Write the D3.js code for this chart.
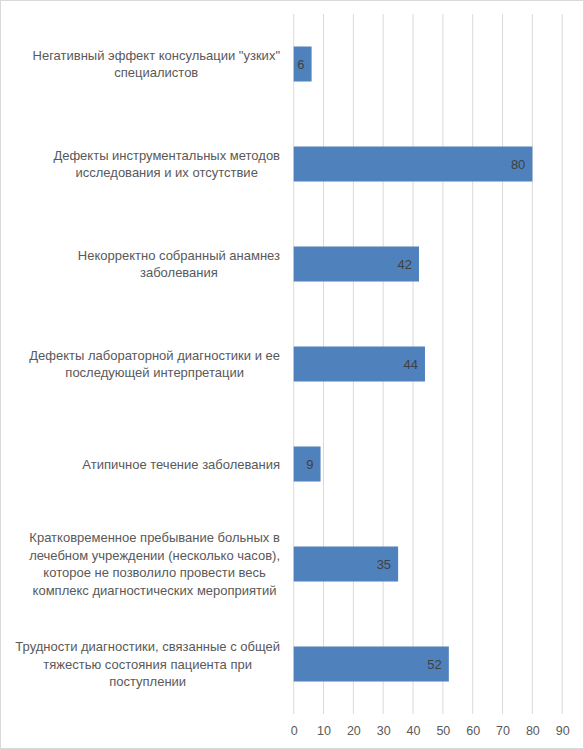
<!DOCTYPE html>
<html>
<head>
<meta charset="utf-8">
<script src="https://cdn.jsdelivr.net/npm/d3@7"></script>
<style>
  body { margin: 0; background: #fff; }
  text { font-family: "Liberation Sans", Arial, sans-serif; }
</style>
</head>
<body>
<div class="chart"></div>
<script>
// categories, top to bottom, split in lines as on the picture
const categories = [
    ['Негативный эффект  консульации "узких"', 'специалистов'],
    ['Дефекты  инструментальных методов', 'исследования и их отсутствие'],
    ['Некорректно собранный  анамнез', 'заболевания'],
    ['Дефекты  лабораторной диагностики и ее', 'последующей интерпретации'],
    ['Атипичное течение заболевания'],
    ['Кратковременное пребывание больных в', 'лечебном учреждении (несколько часов),', 'которое не позволило  провести весь', 'комплекс диагностических мероприятий'],
    ['Трудности диагностики, связанные с общей', 'тяжестью  состояния пациента при', 'поступлении']
];
const values = [6, 80, 42, 44, 9, 35, 52];
const xTicks = [0, 10, 20, 30, 40, 50, 60, 70, 80, 90];

const W = 584, H = 749;
const margin = {top: 14, left: 293.7, bottom: 35, right: 22};
const width = W - margin.left - margin.right;
const height = H - margin.top - margin.bottom;

const root = d3.select('.chart')
    .append('svg')
    .attr('width', W)
    .attr('height', H);

// chart frame
root.append('rect')
    .attr('x', 0.5).attr('y', 0.5)
    .attr('width', W - 1).attr('height', H - 1)
    .attr('fill', '#fff')
    .attr('stroke', '#d9d9d9');

const svg = root.append('g')
    .attr('transform', 'translate(' + margin.left + ',' + margin.top + ')');

const xScale = d3.scaleLinear()
    .domain([0, 90])
    .range([0, 268.5]);

const yScale = d3.scaleBand()
    .domain(d3.range(categories.length))
    .range([0, height])
    .paddingInner(0.65)
    .paddingOuter(0.325);

// gridlines
svg.selectAll('.grid')
    .data(xTicks)
    .enter()
    .append('line')
    .attr('x1', d => xScale(d))
    .attr('x2', d => xScale(d))
    .attr('y1', 0)
    .attr('y2', height)
    .attr('stroke', '#d9d9d9')
    .attr('stroke-width', 1);

// x axis labels
const xAxis = d3.axisBottom(xScale)
    .tickValues(xTicks)
    .tickSize(0)
    .tickPadding(12);

svg.append('g')
    .attr('transform', `translate(0, ${height})`)
    .call(xAxis)
    .call(g => g.select('.domain').remove())
    .selectAll('text')
    .attr('fill', '#595959')
    .attr('font-size', 12.5)
    .attr('font-family', '"Liberation Sans", Arial, sans-serif');

// bars
svg.selectAll('.bar')
    .data(values)
    .enter()
    .append('rect')
    .attr('x', xScale(0))
    .attr('y', (d, i) => yScale(i))
    .attr('width', d => xScale(d) - xScale(0))
    .attr('height', yScale.bandwidth())
    .attr('fill', '#4f81bd');

// value labels inside end
svg.selectAll('.val')
    .data(values)
    .enter()
    .append('text')
    .text(d => d)
    .attr('x', d => xScale(d) - 7)
    .attr('y', (d, i) => yScale(i) + yScale.bandwidth() / 2)
    .attr('dy', '0.35em')
    .attr('text-anchor', 'end')
    .attr('fill', '#404040')
    .attr('font-size', 13);

// category labels, centred block ending at labelRight
const labelRight = 280 - margin.left;
const lineH = 17.4;
const labels = svg.selectAll('.cat')
    .data(categories)
    .enter()
    .append('text')
    .attr('fill', '#595959')
    .attr('font-size', 13)
    .attr('text-anchor', 'middle');

labels.each(function(lines, i) {
    const t = d3.select(this);
    const cy = yScale(i) + yScale.bandwidth() / 2;
    lines.forEach((s, j) => {
        t.append('tspan')
            .attr('x', 0)
            .attr('y', cy + (j - (lines.length - 1) / 2) * lineH)
            .attr('dy', '0.35em')
            .text(s);
    });
    let maxW = 0;
    t.selectAll('tspan').each(function() {
        maxW = Math.max(maxW, this.getComputedTextLength());
    });
    t.selectAll('tspan').attr('x', labelRight - maxW / 2);
});
</script>
</body>
</html>
